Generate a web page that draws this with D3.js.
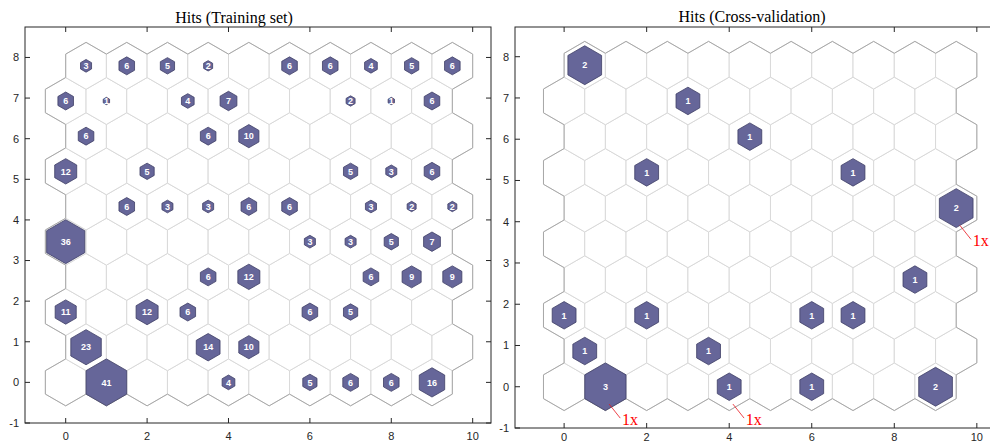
<!DOCTYPE html>
<html>
<head>
<meta charset="utf-8">
<script src="https://cdn.jsdelivr.net/npm/d3@7"></script>
<style>
  body { margin: 0; background: #fff; }
  svg { display: block; }
</style>
</head>
<body>
<div id="chart"></div>
<script>
/////////////////////////////////////////////////////////////// Data ///////////////////////////////////////////////////////////
const gridCols = 10, gridRows = 10;

// hits per neuron, row 0 (bottom) .. row 9 (top), col 0 .. 9
const trainHits = [
  [0, 41, 0, 0, 4, 0, 5, 6, 6, 16],
  [23, 0, 0, 14, 10, 0, 0, 0, 0, 0],
  [11, 0, 12, 6, 0, 0, 6, 5, 0, 0],
  [0, 0, 0, 6, 12, 0, 0, 6, 9, 9],
  [36, 0, 0, 0, 0, 0, 3, 3, 5, 7],
  [0, 6, 3, 3, 6, 6, 0, 3, 2, 2],
  [12, 0, 5, 0, 0, 0, 0, 5, 3, 6],
  [6, 0, 0, 6, 10, 0, 0, 0, 0, 0],
  [6, 1, 0, 4, 7, 0, 0, 2, 1, 6],
  [3, 6, 5, 2, 0, 6, 6, 4, 5, 6]
];

const cvHits = [
  [0, 3, 0, 0, 1, 0, 1, 0, 0, 2],
  [1, 0, 0, 1, 0, 0, 0, 0, 0, 0],
  [1, 0, 1, 0, 0, 0, 1, 1, 0, 0],
  [0, 0, 0, 0, 0, 0, 0, 0, 1, 0],
  [0, 0, 0, 0, 0, 0, 0, 0, 0, 0],
  [0, 0, 0, 0, 0, 0, 0, 0, 0, 2],
  [0, 0, 1, 0, 0, 0, 0, 1, 0, 0],
  [0, 0, 0, 0, 1, 0, 0, 0, 0, 0],
  [0, 0, 0, 1, 0, 0, 0, 0, 0, 0],
  [2, 0, 0, 0, 0, 0, 0, 0, 0, 0]
];

// "1x" notes on the cross-validation map
const noteRows = [0, 0, 5],
      noteCols = [1, 4, 9],
      noteLabels = ["1x", "1x", "1x"];

const xTicks = [0, 2, 4, 6, 8, 10],
      yTicks = [-1, 0, 1, 2, 3, 4, 5, 6, 7, 8];

const titles = ["Hits (Training set)", "Hits (Cross-validation)"];

/////////////////////////////////////////////////////////////// Set-up /////////////////////////////////////////////////////////
const W = 990, H = 443;
const R = 1 / Math.sqrt(3);          // hex circumradius (flat-to-flat = 1)
const rowStep = Math.sqrt(0.75);

const panels = [
  {hits: trainHits, left: 25, right: 491, top: 27, bottom: 423, xLab: 13,
   xDom: [-1, 10.45], yDom: [-1, 8.75], titleX: 234, titleY: 22.5, notes: false},
  {hits: cvHits, left: 515, right: 995, top: 27, bottom: 428, xLab: 9,
   xDom: [-1.19, 10.44], yDom: [-1, 8.72], titleX: 752, titleY: 22, notes: true}
];

const svg = d3.select("#chart").append("svg")
  .attr("width", W).attr("height", H)
  .style("background", "#fff");

function cellX(r, c) { return c + 0.5 * (r % 2); }
function cellY(r) { return r * rowStep; }
function exists(r, c) { return r >= 0 && r < gridRows && c >= 0 && c < gridCols; }

const angles = d3.range(6).map(k => (30 + 60 * k) * Math.PI / 180);

panels.forEach(function(p, pi) {
  const x = d3.scaleLinear().domain(p.xDom).range([p.left, p.right]);
  const y = d3.scaleLinear().domain(p.yDom).range([p.bottom, p.top]);
  const maxHits = d3.max(p.hits, row => d3.max(row));

  const hexPoints = (cx, cy, rad) =>
    angles.map(a => [x(cx + rad * Math.cos(a)), y(cy + rad * Math.sin(a))].join(",")).join(" ");

  const cells = [];
  for (let r = 0; r < gridRows; r++)
    for (let c = 0; c < gridCols; c++)
      cells.push({r: r, c: c, cx: cellX(r, c), cy: cellY(r), hits: p.hits[r][c]});

  const g = svg.append("g");

  // cell outlines
  g.append("g").selectAll("polygon")
    .data(cells).enter().append("polygon")
    .attr("points", d => hexPoints(d.cx, d.cy, R))
    .attr("fill", "#fff")
    .attr("stroke", "#d9d9d9")
    .attr("stroke-width", 1);

  // darker outer boundary of the map
  const edges = [];
  cells.forEach(function(d) {
    for (let k = 0; k < 6; k++) {
      const n = (60 + 60 * k) * Math.PI / 180;
      const nr = d.r + Math.round(Math.sin(n) / rowStep);
      const nx = d.cx + Math.cos(n);
      const nc = Math.round(nx - 0.5 * (((nr % 2) + 2) % 2));
      if (!exists(nr, nc)) {
        const a0 = angles[k], a1 = angles[(k + 1) % 6];
        edges.push([d.cx + R * Math.cos(a0), d.cy + R * Math.sin(a0),
                    d.cx + R * Math.cos(a1), d.cy + R * Math.sin(a1)]);
      }
    }
  });
  g.append("g").selectAll("line")
    .data(edges).enter().append("line")
    .attr("x1", e => x(e[0])).attr("y1", e => y(e[1]))
    .attr("x2", e => x(e[2])).attr("y2", e => y(e[3]))
    .attr("stroke", "#a8a8a8")
    .attr("stroke-width", 1);

  // hit patches, size ~ sqrt(hits / max)
  const hit = g.append("g").selectAll("g")
    .data(cells.filter(d => d.hits > 0)).enter().append("g");

  hit.append("polygon")
    .attr("points", d => hexPoints(d.cx, d.cy, R * Math.sqrt(d.hits / maxHits)))
    .attr("fill", "#666699")
    .attr("stroke", "#3f3f66")
    .attr("stroke-width", 0.8);

  hit.append("text")
    .attr("x", d => x(d.cx))
    .attr("y", d => y(d.cy))
    .attr("dy", "0.36em")
    .attr("text-anchor", "middle")
    .attr("font-family", "Liberation Sans, Arial, sans-serif")
    .attr("font-weight", "bold")
    .attr("font-size", 9)
    .attr("fill", "#fff")
    .text(d => d.hits);

  // notes
  if (p.notes) {
    const notes = noteRows.map((r, i) => ({cx: cellX(r, noteCols[i]), cy: cellY(r), label: noteLabels[i]}));
    const ng = g.append("g").selectAll("g").data(notes).enter().append("g");
    ng.append("line")
      .attr("x1", d => x(d.cx + 0.09)).attr("y1", d => y(d.cy - 0.42))
      .attr("x2", d => x(d.cx + 0.36)).attr("y2", d => y(d.cy - 0.76))
      .attr("stroke", "#e8141c")
      .attr("stroke-width", 0.8);
    ng.append("text")
      .attr("x", d => x(d.cx + 0.4))
      .attr("y", d => y(d.cy - 0.92))
      .attr("font-family", "Liberation Serif, Times New Roman, serif")
      .attr("font-size", 16)
      .attr("fill", "#ff0000")
      .text(d => d.label);
  }

  // axes box + inward ticks
  const axisColor = "#262626";
  g.append("rect")
    .attr("x", p.left).attr("y", p.top)
    .attr("width", p.right - p.left).attr("height", p.bottom - p.top)
    .attr("fill", "none").attr("stroke", axisColor).attr("stroke-width", 1);

  const tl = 5;
  xTicks.forEach(function(t) {
    g.append("line").attr("x1", x(t)).attr("x2", x(t)).attr("y1", p.bottom).attr("y2", p.bottom - tl)
      .attr("stroke", axisColor);
    g.append("line").attr("x1", x(t)).attr("x2", x(t)).attr("y1", p.top).attr("y2", p.top + tl)
      .attr("stroke", axisColor);
    g.append("text").attr("x", x(t)).attr("y", p.bottom + p.xLab).attr("dy", "0.36em")
      .attr("text-anchor", "middle")
      .attr("font-family", "Liberation Sans, Arial, sans-serif").attr("font-size", 11)
      .attr("fill", axisColor).text(t);
  });
  yTicks.forEach(function(t) {
    g.append("line").attr("x1", p.left).attr("x2", p.left + tl).attr("y1", y(t)).attr("y2", y(t))
      .attr("stroke", axisColor);
    g.append("line").attr("x1", p.right).attr("x2", p.right - tl).attr("y1", y(t)).attr("y2", y(t))
      .attr("stroke", axisColor);
    g.append("text").attr("x", p.left - 6).attr("y", y(t)).attr("dy", "0.36em")
      .attr("text-anchor", "end")
      .attr("font-family", "Liberation Sans, Arial, sans-serif").attr("font-size", 11)
      .attr("fill", axisColor).text(t);
  });

  // title
  g.append("text")
    .attr("x", p.titleX).attr("y", p.titleY)
    .attr("text-anchor", "middle")
    .attr("font-family", "Liberation Serif, Times New Roman, serif")
    .attr("font-size", 16)
    .attr("fill", "#000")
    .text(titles[pi]);
});
</script>
</body>
</html>
